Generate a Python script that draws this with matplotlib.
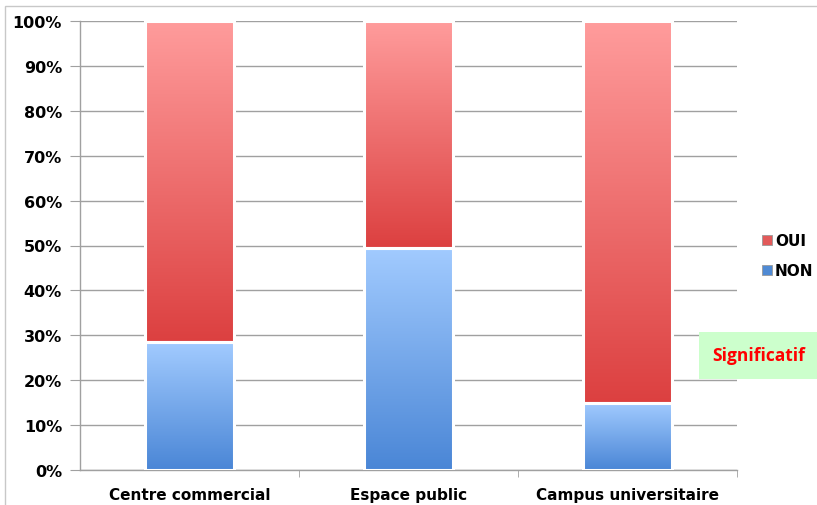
import numpy as np
import matplotlib
matplotlib.use("Agg")
import matplotlib.pyplot as plt
from matplotlib.colors import LinearSegmentedColormap
from matplotlib.patches import Rectangle

categories = ["Centre commercial", "Espace public", "Campus universitaire"]
non_vals = [28.5, 49.5, 15.0]
oui_vals = [71.5, 50.5, 85.0]
y_ticks = [0, 10, 20, 30, 40, 50, 60, 70, 80, 90, 100]

RED = LinearSegmentedColormap.from_list("red", ["#dc4040", "#ff9c9c"])
BLUE = LinearSegmentedColormap.from_list("blue", ["#4a86d6", "#a2cbff"])
GRID = "#a0a0a0"

fig = plt.figure(figsize=(8.17, 5.06), dpi=100)
fig.patches.append(Rectangle((5 / 817, -0.1), 1.0, (506 - 7) / 506 + 0.1,
                             transform=fig.transFigure, fill=False,
                             edgecolor="#c8c8c8", linewidth=1.0))
ax = fig.add_axes([80 / 817, 35 / 506, 657 / 817, 449 / 506])

x = np.arange(len(categories))
width = 0.41


def gradient_bars(bottoms, heights, cmap):
    bars = ax.bar(x, heights, width, bottom=bottoms, facecolor="none",
                  edgecolor="white", linewidth=2.2, zorder=4)
    grad = np.linspace(0, 1, 256).reshape(-1, 1)
    for b in bars:
        x0, y0 = b.get_x(), b.get_y()
        im = ax.imshow(grad, cmap=cmap, origin="lower", aspect="auto",
                       extent=(x0, x0 + b.get_width(), y0, y0 + b.get_height()),
                       zorder=3, interpolation="bicubic")
        im.set_clip_path(b)
    return bars


gradient_bars([0, 0, 0], non_vals, BLUE)
gradient_bars(non_vals, oui_vals, RED)

ax.set_xlim(-0.5, len(categories) - 0.5)
ax.set_ylim(0, 100)
ax.set_yticks(y_ticks)
ax.set_yticklabels([f"{t}%" for t in y_ticks], fontsize=11.5, fontweight="bold",
                   family="DejaVu Sans")
ax.set_xticks(x)
ax.set_xticklabels(categories, fontsize=11, fontweight="bold", family="DejaVu Sans")
ax.tick_params(axis="x", length=0, pad=12)
ax.set_xticks(np.arange(len(categories)) + 0.5, minor=True)
ax.tick_params(axis="x", which="minor", length=5, color=GRID, direction="out")
ax.tick_params(axis="y", length=7, color=GRID, direction="out", pad=6)
ax.yaxis.grid(True, color=GRID, linewidth=1.0, zorder=0)
ax.set_axisbelow(True)
for side in ("top", "right"):
    ax.spines[side].set_visible(False)
for side in ("left", "bottom"):
    ax.spines[side].set_color(GRID)
    ax.spines[side].set_linewidth(1.0)

# legend
legend_items = [("OUI", "#e25a5a"), ("NON", "#4f8ad4")]
for i, (lab, col) in enumerate(legend_items):
    yy = 1 - (241 + 30 * i) / 506
    fig.patches.append(Rectangle((762 / 817, yy - 5 / 506), 10 / 817, 10 / 506,
                                 transform=fig.transFigure, facecolor=col,
                                 edgecolor="#999999", linewidth=0.6))
    fig.text(775 / 817, yy, lab, fontsize=11, fontweight="bold",
             va="center", ha="left", family="DejaVu Sans")

fig.patches.append(Rectangle((699 / 817, 1 - 380 / 506), 120 / 817, 47 / 506,
                             transform=fig.transFigure, facecolor="#ccffcc",
                             edgecolor="none", zorder=5))
fig.text(759 / 817, 1 - 356 / 506, "Significatif", color="#ff0000", fontsize=12.5,
         fontweight="bold", ha="center", va="center", family="Open Sans", zorder=6)

fig.savefig("out.png", dpi=100)
